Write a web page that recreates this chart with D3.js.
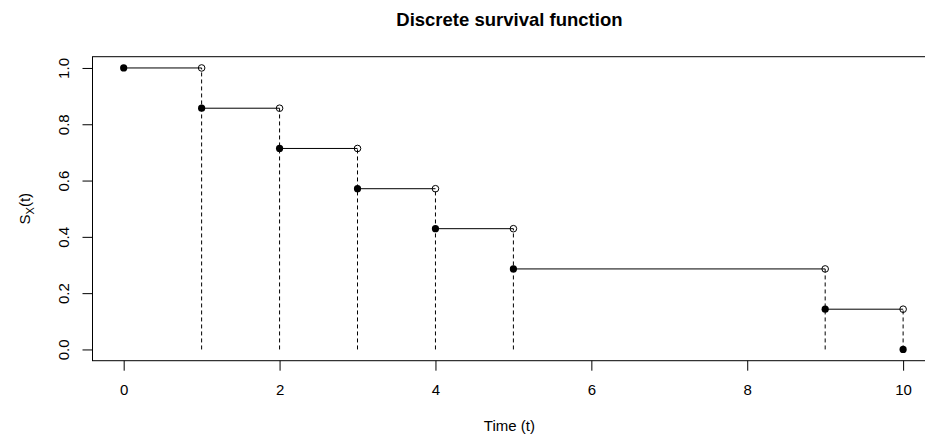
<!DOCTYPE html>
<html>
<head>
<meta charset="utf-8">
<script src="https://cdn.jsdelivr.net/npm/d3@7"></script>
<style>
  body { margin: 0; background: #fff; }
  text { font-family: "Liberation Sans", Arial, sans-serif; fill: #000; }
</style>
</head>
<body>
<svg id="chart" width="925" height="442"></svg>
<script>
// step points of the survival function
var times = [0, 1, 2, 3, 4, 5, 9, 10];
var surv = [1.000, 0.857, 0.714, 0.571, 0.429, 0.286, 0.143, 0.000];
var xTicks = [0, 2, 4, 6, 8, 10];
var yTicks = [0.0, 0.2, 0.4, 0.6, 0.8, 1.0];

var svg = d3.select("#chart");

// plot region (right edge runs off the picture, like the original)
var pLeft = 92.5, pRight = 934.3, pTop = 56.7, pBottom = 360.7;

var x = d3.scaleLinear().domain([-0.4, 10.4]).range([pLeft, pRight]);
var y = d3.scaleLinear().domain([-0.04, 1.04]).range([pBottom, pTop]);

// x axis
var xAxis = svg.append("g")
  .attr("transform", "translate(0," + pBottom + ")")
  .call(d3.axisBottom(x).tickValues(xTicks).tickSize(10).tickPadding(14)
    .tickFormat(d3.format("d")));
xAxis.select(".domain").remove();
xAxis.selectAll("text").style("font-size", "15px").attr("fill", "#000");
xAxis.selectAll("line").attr("stroke", "#000");

// y axis, labels turned like in base R
var yAxis = svg.append("g")
  .attr("transform", "translate(" + pLeft + ",0)")
  .call(d3.axisLeft(y).tickValues(yTicks).tickSize(10).tickFormat(d3.format(".1f")));
yAxis.select(".domain").remove();
yAxis.selectAll("line").attr("stroke", "#000");
yAxis.selectAll("text")
  .style("font-size", "15px")
  .attr("fill", "#000")
  .attr("x", null).attr("dy", null)
  .attr("text-anchor", "middle")
  .attr("transform", "translate(-24,0) rotate(-90)");

// box
svg.append("rect")
  .attr("x", pLeft).attr("y", pTop)
  .attr("width", pRight - pLeft).attr("height", pBottom - pTop)
  .attr("fill", "none").attr("stroke", "#000").attr("stroke-width", 1);

var steps = d3.range(times.length - 1);

// dashed drops
svg.append("g").selectAll("line").data(steps).enter().append("line")
  .attr("x1", function(i) { return x(times[i + 1]); })
  .attr("x2", function(i) { return x(times[i + 1]); })
  .attr("y1", y(0))
  .attr("y2", function(i) { return y(surv[i]); })
  .attr("stroke", "#000")
  .attr("stroke-dasharray", "4,3");

// horizontal steps
svg.append("g").selectAll("line").data(steps).enter().append("line")
  .attr("x1", function(i) { return x(times[i]); })
  .attr("x2", function(i) { return x(times[i + 1]); })
  .attr("y1", function(i) { return y(surv[i]); })
  .attr("y2", function(i) { return y(surv[i]); })
  .attr("stroke", "#000");

// open circles at the right end of each step
svg.append("g").selectAll("circle").data(steps).enter().append("circle")
  .attr("cx", function(i) { return x(times[i + 1]); })
  .attr("cy", function(i) { return y(surv[i]); })
  .attr("r", 3.3)
  .attr("fill", "none")
  .attr("stroke", "#000");

// filled points
svg.append("g").selectAll("circle").data(times).enter().append("circle")
  .attr("cx", function(d) { return x(d); })
  .attr("cy", function(d, i) { return y(surv[i]); })
  .attr("r", 3.6)
  .attr("fill", "#000");

// titles
svg.append("text")
  .attr("x", (pLeft + pRight) / 2 - 4).attr("y", 26)
  .attr("text-anchor", "middle")
  .style("font-size", "18.5px").style("font-weight", "bold")
  .text("Discrete survival function");

svg.append("text")
  .attr("x", (pLeft + pRight) / 2 - 4).attr("y", 431)
  .attr("text-anchor", "middle")
  .style("font-size", "15px")
  .text("Time (t)");

var ylab = svg.append("text")
  .attr("transform", "translate(30," + ((pTop + pBottom) / 2) + ") rotate(-90)")
  .attr("text-anchor", "middle")
  .style("font-size", "15px");
ylab.append("tspan").text("S");
ylab.append("tspan").attr("dy", 4).style("font-size", "11px").text("X");
ylab.append("tspan").attr("dy", -4).text("(t)");
</script>
</body>
</html>
